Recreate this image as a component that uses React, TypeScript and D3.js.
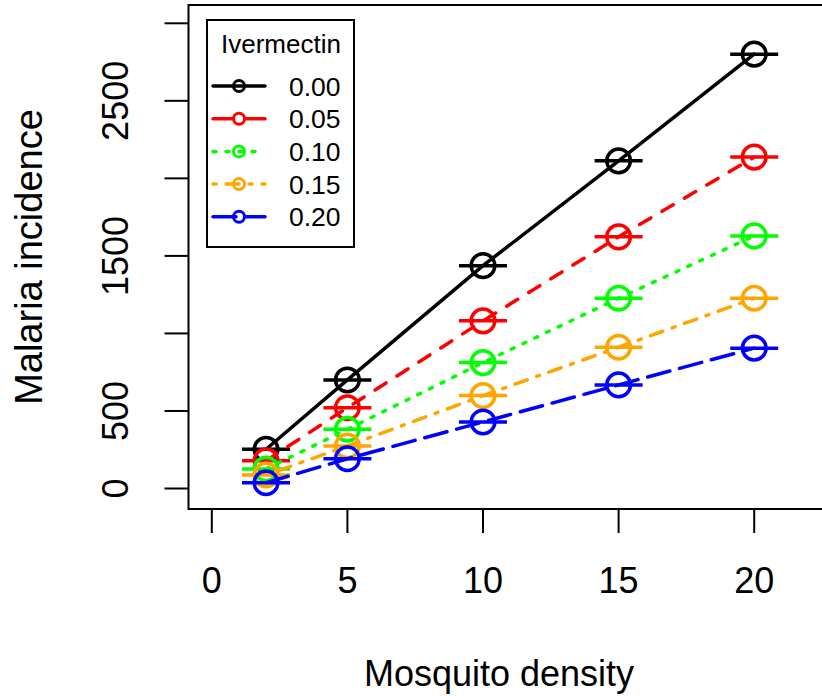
import React from "react";
import * as d3 from "d3";

// Mosquito density (x) and malaria incidence per ivermectin coverage level
const density = [2, 5, 10, 15, 20];
const ivermectinLevels = ["0.00", "0.05", "0.10", "0.15", "0.20"];
const incidence000 = [253, 700, 1437, 2113, 2801];
const incidence005 = [179, 521, 1081, 1623, 2137];
const incidence010 = [126, 382, 812, 1227, 1629];
const incidence015 = [87, 274, 599, 911, 1227];
const incidence020 = [37, 192, 429, 668, 905];
const xTicks = [0, 5, 10, 15, 20];
const yTicks = [0, 500, 1000, 1500, 2000, 2500, 3000];
const yTickLabels = ["0", "500", "", "1500", "", "2500", ""];

const seriesColors = ["#000000", "#ff0000", "#00ff00", "#ffa500", "#0000ff"];
const seriesDashes = ["none", "13 13", "3 10", "3 10 13 10", "23 10"];
const legendDashes = ["none", "20 12", "3 10", "3 10 13 10", "23 10"];

const W = 822;
const H = 696;
const FONT = "'Liberation Sans', Arial, Helvetica, sans-serif";

export default function App() {
  const series = [incidence000, incidence005, incidence010, incidence015, incidence020];
  const x = d3.scaleLinear().domain([0, 20]).range([211.8, 754.2]);
  const y = d3.scaleLinear().domain([0, 3000]).range([488.5, 23.3]);
  const line = d3
    .line<number>()
    .x((_, i) => x(density[i]))
    .y((v) => y(v));

  const box = { left: 188.5, top: 5, right: 840, bottom: 509 };
  const capHalf = 24;
  const pointR = 11.8;
  const lw = 3.5;

  const legend = { x: 207, y: 20, w: 147, h: 227 };
  const rowY = (i: number) => 86 + i * 32.7;

  return (
    <svg
      width={W}
      height={H}
      style={{ position: "absolute", left: 0, top: 0, background: "#fff" }}
      fontFamily={FONT}
    >
      <rect x={0} y={0} width={W} height={H} fill="#fff" />

      {/* series: connecting line, horizontal bars and open circles */}
      {series.map((vals, s) => (
        <g key={s} stroke={seriesColors[s]} strokeWidth={lw} fill="none" strokeLinecap="round">
          <path d={line(vals) || ""} strokeDasharray={seriesDashes[s]} />
          {vals.map((v, i) => (
            <line
              key={"c" + i}
              x1={x(density[i]) - capHalf}
              x2={x(density[i]) + capHalf}
              y1={y(v)}
              y2={y(v)}
              strokeLinecap="butt"
            />
          ))}
          {vals.map((v, i) => (
            <circle key={"p" + i} cx={x(density[i])} cy={y(v)} r={pointR} />
          ))}
        </g>
      ))}

      {/* plot frame (right side runs past the page edge) */}
      <path
        d={`M${box.right},${box.top}H${box.left}V${box.bottom}H${box.right}`}
        fill="none"
        stroke="#000"
        strokeWidth={2}
      />

      {/* y axis */}
      <g stroke="#000" strokeWidth={2}>
        {yTicks.map((t) => (
          <line key={t} x1={164.5} x2={box.left} y1={y(t)} y2={y(t)} />
        ))}
      </g>
      {yTicks.map((t, i) =>
        yTickLabels[i] ? (
          <text
            key={t}
            transform={`translate(128,${y(t)}) rotate(-90)`}
            textAnchor="middle"
            fontSize={36}
            fill="#000"
          >
            {yTickLabels[i]}
          </text>
        ) : null
      )}

      {/* x axis */}
      <g stroke="#000" strokeWidth={2}>
        {xTicks.map((t) => (
          <line key={t} x1={x(t)} x2={x(t)} y1={box.bottom} y2={533} />
        ))}
      </g>
      {xTicks.map((t) => (
        <text key={t} x={x(t)} y={593} textAnchor="middle" fontSize={36} fill="#000">
          {t}
        </text>
      ))}

      {/* axis titles */}
      <text x={499} y={686} textAnchor="middle" fontSize={36} fill="#000">
        Mosquito density
      </text>
      <text
        transform={`translate(42,257) rotate(-90)`}
        textAnchor="middle"
        fontSize={38}
        fill="#000"
      >
        Malaria incidence
      </text>

      {/* legend */}
      <rect
        x={legend.x}
        y={legend.y}
        width={legend.w}
        height={legend.h}
        fill="#fff"
        stroke="#000"
        strokeWidth={2}
      />
      <text x={281} y={53} textAnchor="middle" fontSize={26} fill="#000">
        Ivermectin
      </text>
      {ivermectinLevels.map((lab, i) => (
        <g key={lab}>
          <line
            x1={213}
            x2={265}
            y1={rowY(i)}
            y2={rowY(i)}
            stroke={seriesColors[i]}
            strokeWidth={lw}
            strokeDasharray={legendDashes[i]}
            strokeLinecap="round"
          />
          <circle
            cx={239}
            cy={rowY(i)}
            r={5.5}
            fill="none"
            stroke={seriesColors[i]}
            strokeWidth={3}
          />
          <text x={289} y={rowY(i) + 9.5} fontSize={26.5} fill="#000">
            {lab}
          </text>
        </g>
      ))}
    </svg>
  );
}
